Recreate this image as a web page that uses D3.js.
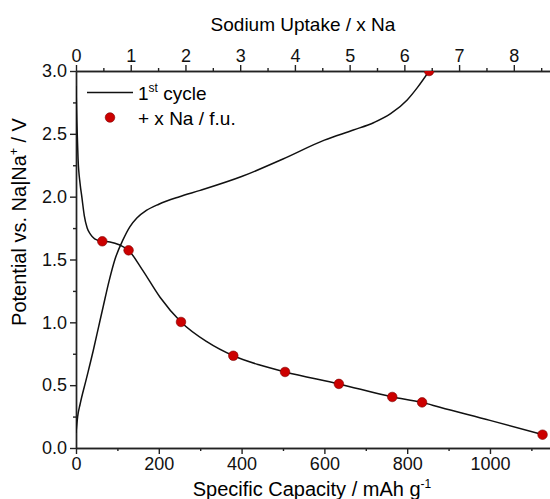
<!DOCTYPE html>
<html>
<head>
<meta charset="utf-8">
<script src="https://cdn.jsdelivr.net/npm/d3@7"></script>
<style>
	body { margin: 0; background: #fff; }
	svg { font-family: Arial, "Liberation Sans", sans-serif; }
	.axis path, .axis line { stroke: #222; stroke-width: 1.4; }
	.axis text { font-size: 18px; fill: #111; }
</style>
</head>
<body>
<div class="content"></div>
<script>
const w = 550;
const h = 499;
const m = { top: 71, right: 0, bottom: 51, left: 76 };

// 1st cycle, discharge branch (mAh/g, V)
const dischargeCap = [0, 2, 5, 10, 14, 20, 27, 35, 45, 63.5, 82, 106, 127, 160, 203, 253.6, 316, 380, 444, 505, 635, 764, 836, 879, 1000, 1127];
const dischargeV = [2.88, 2.6, 2.3, 2.1, 2.0, 1.85, 1.75, 1.7, 1.665, 1.645, 1.64, 1.615, 1.573, 1.42, 1.2, 1.003, 0.846, 0.734, 0.66, 0.605, 0.51, 0.406, 0.363, 0.324, 0.22, 0.106];

// 1st cycle, charge branch
const chargeCap = [0, 4, 10, 25, 42, 55, 66, 80, 94, 114, 130, 147, 170, 200, 250, 300, 400, 500, 600, 670, 720, 760, 800, 825, 853];
const chargeV = [0.12, 0.25, 0.35, 0.55, 0.78, 0.97, 1.13, 1.33, 1.5, 1.66, 1.76, 1.83, 1.89, 1.94, 2.0, 2.05, 2.16, 2.3, 2.45, 2.53, 2.59, 2.66, 2.77, 2.87, 3.0];

// + x Na / f.u. markers
const naCap = [63.5, 127, 253.6, 380, 505, 635, 764, 836, 1127, 853];
const naV = [1.645, 1.573, 1.003, 0.734, 0.605, 0.51, 0.406, 0.363, 0.106, 3.0];

const capTicks = [0, 200, 400, 600, 800, 1000];
const vTicks = [0, 0.5, 1.0, 1.5, 2.0, 2.5, 3.0];
const naTicks = [0, 1, 2, 3, 4, 5, 6, 7, 8];
const capPerNa = 132.2;
const capMax = 1145;

const lineColor = '#111';
const dotColor = '#cc0000';

const svg = d3.select('.content').append('svg')
	.attr('width', w)
	.attr('height', h);

const xScale = d3.scaleLinear()
	.domain([0, capMax])
	.range([m.left, w - m.right]);

const xTop = d3.scaleLinear()
	.domain([0, capMax / capPerNa])
	.range([m.left, w - m.right]);

const yScale = d3.scaleLinear()
	.domain([0, 3])
	.range([h - m.bottom, m.top]);

svg.append('defs').append('clipPath')
	.attr('id', 'clip')
	.append('rect')
	.attr('x', m.left)
	.attr('y', m.top)
	.attr('width', w - m.right - m.left)
	.attr('height', h - m.bottom - m.top);

// minor ticks first, then the major axes on top
svg.append('g')
	.attr('class', 'axis')
	.attr('transform', 'translate(0,' + (h - m.bottom) + ')')
	.call(d3.axisBottom(xScale).tickValues(d3.range(100, capMax, 200)).tickSize(3).tickSizeOuter(0).tickFormat(''));

svg.append('g')
	.attr('class', 'axis')
	.attr('transform', 'translate(0,' + m.top + ')')
	.call(d3.axisTop(xTop).tickValues(d3.range(0.5, 8.7, 1)).tickSize(3).tickSizeOuter(0).tickFormat(''));

svg.append('g')
	.attr('class', 'axis')
	.attr('transform', 'translate(' + m.left + ',0)')
	.call(d3.axisLeft(yScale).tickValues(d3.range(0.25, 3, 0.5)).tickSize(3).tickSizeOuter(0).tickFormat(''));

svg.append('g')
	.attr('class', 'axis')
	.attr('id', 'x-axis')
	.attr('transform', 'translate(0,' + (h - m.bottom) + ')')
	.call(d3.axisBottom(xScale).tickValues(capTicks).tickSize(6).tickSizeOuter(0).tickPadding(3).tickFormat(d3.format('d')));

svg.append('g')
	.attr('class', 'axis')
	.attr('id', 'top-axis')
	.attr('transform', 'translate(0,' + m.top + ')')
	.call(d3.axisTop(xTop).tickValues(naTicks).tickSize(6).tickSizeOuter(0).tickPadding(3).tickFormat(d3.format('d')));

svg.append('g')
	.attr('class', 'axis')
	.attr('id', 'y-axis')
	.attr('transform', 'translate(' + m.left + ',0)')
	.call(d3.axisLeft(yScale).tickValues(vTicks).tickSize(6).tickSizeOuter(0).tickPadding(3).tickFormat(d3.format('.1f')));

const line = d3.line()
	.x((d) => xScale(d[0]))
	.y((d) => yScale(d[1]))
	.curve(d3.curveMonotoneX);

const plot = svg.append('g')
	.attr('clip-path', 'url(#clip)');

plot.append('path')
	.datum(dischargeCap.map((c, i) => [c, dischargeV[i]]))
	.attr('d', line)
	.attr('fill', 'none')
	.attr('stroke', lineColor)
	.attr('stroke-width', 1.5);

plot.append('path')
	.datum(chargeCap.map((c, i) => [c, chargeV[i]]))
	.attr('d', line)
	.attr('fill', 'none')
	.attr('stroke', lineColor)
	.attr('stroke-width', 1.5);

plot.selectAll('circle.dot')
	.data(naCap.map((c, i) => [c, naV[i]]))
	.enter()
	.append('circle')
	.attr('class', 'dot')
	.attr('cx', (d) => xScale(d[0]))
	.attr('cy', (d) => yScale(d[1]))
	.attr('r', 4.8)
	.attr('fill', dotColor)
	.attr('stroke', '#7a0000')
	.attr('stroke-width', 0.6);

// legend
const legend = svg.append('g')
	.attr('id', 'legend');

legend.append('line')
	.attr('x1', 87)
	.attr('x2', 133)
	.attr('y1', 92.5)
	.attr('y2', 92.5)
	.attr('stroke', lineColor)
	.attr('stroke-width', 1.5);

const t1 = legend.append('text')
	.attr('x', 138)
	.attr('y', 99.5)
	.style('font-size', '19px');
t1.append('tspan').text('1');
t1.append('tspan').attr('dy', -8).style('font-size', '12px').text('st');
t1.append('tspan').attr('dy', 8).text(' cycle');

legend.append('circle')
	.attr('cx', 110)
	.attr('cy', 117.5)
	.attr('r', 4.8)
	.attr('fill', dotColor)
	.attr('stroke', '#7a0000')
	.attr('stroke-width', 0.6);

legend.append('text')
	.attr('x', 138)
	.attr('y', 124.5)
	.style('font-size', '19px')
	.text('+ x Na / f.u.');

// axis titles
svg.append('text')
	.attr('x', 303)
	.attr('y', 31)
	.attr('text-anchor', 'middle')
	.style('font-size', '19px')
	.text('Sodium Uptake / x Na');

const xt = svg.append('text')
	.attr('x', 312)
	.attr('y', 496)
	.attr('text-anchor', 'middle')
	.style('font-size', '20px');
xt.append('tspan').text('Specific Capacity / mAh g');
xt.append('tspan').attr('dy', -8).style('font-size', '12px').text('-1');

const yt = svg.append('text')
	.attr('transform', 'translate(26,' + 222 + ') rotate(-90)')
	.attr('text-anchor', 'middle')
	.style('font-size', '20px');
yt.append('tspan').text('Potential vs. Na|Na');
yt.append('tspan').attr('dy', -8).style('font-size', '12px').text('+');
yt.append('tspan').attr('dy', 8).text(' / V');
</script>
</body>
</html>
